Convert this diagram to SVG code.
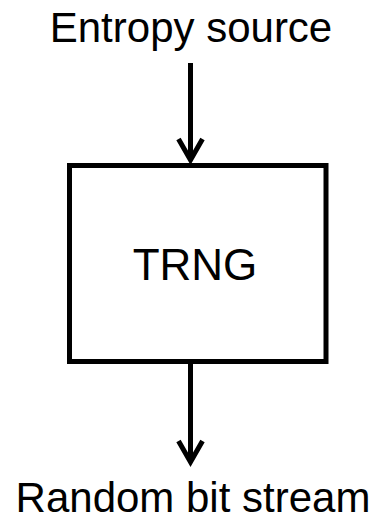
<svg xmlns="http://www.w3.org/2000/svg" width="378" height="524" viewBox="0 0 378 524">
<style>
.t{font-family:"Liberation Sans",Arial,sans-serif;fill:#000;text-anchor:middle}
.c{stroke:#000;stroke-width:5;fill:none}
</style>
<defs>
<marker id="ah" markerUnits="userSpaceOnUse" viewBox="-28 -16 38 32" refX="0" refY="0" markerWidth="38" markerHeight="32" orient="auto">
<path d="M-21,-12 L0,0 L-21,12" fill="none" stroke="#000" stroke-width="5" stroke-linejoin="miter" stroke-miterlimit="10"/>
</marker>
</defs>
<rect width="378" height="524" fill="#fff"/>
<g id="entropy"><text class="t" x="191" y="42" font-size="42">Entropy source</text></g>
<g id="trng">
<rect x="69.5" y="165.5" width="256.5" height="196" fill="#fff" stroke="#000" stroke-width="5"/>
<text class="t" x="195" y="280" font-size="44">TRNG</text>
</g>
<g id="output"><text class="t" x="193" y="512" font-size="42">Random bit stream</text></g>
<g id="connectors">
<line class="c" x1="190.5" y1="63" x2="190.5" y2="160" marker-end="url(#ah)"/>
<line class="c" x1="190.5" y1="364" x2="190.5" y2="462" marker-end="url(#ah)"/>
</g>
</svg>
